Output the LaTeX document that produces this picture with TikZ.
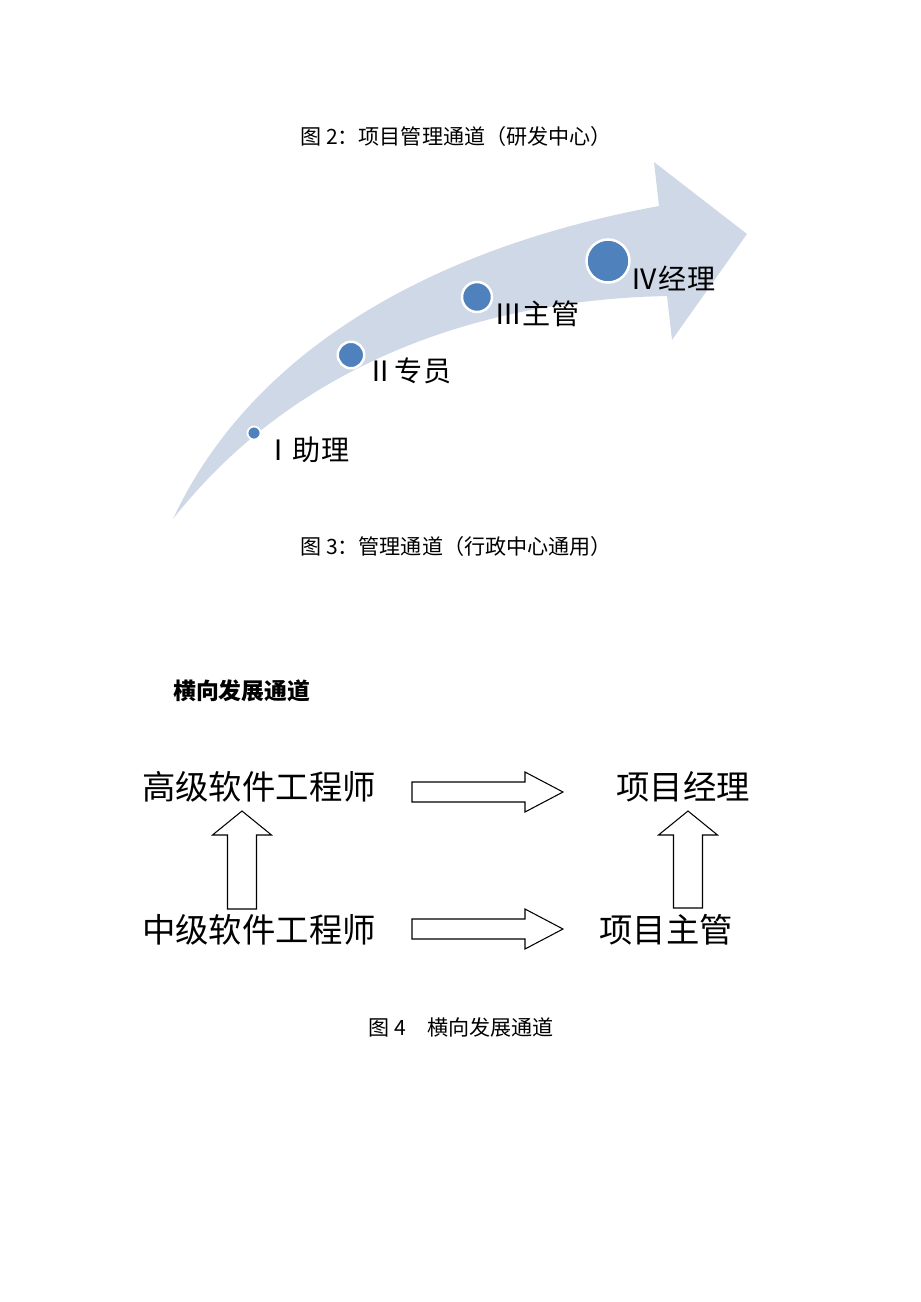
\documentclass[tikz,border=0pt]{standalone}
\usepackage{fontspec}
\setmainfont{Noto Sans CJK SC}
\usepackage{xcolor}
\definecolor{bandblue}{RGB}{207,216,231}
\definecolor{dotblue}{RGB}{79,129,189}
\usepackage{tikz}
\usetikzlibrary{calc}
\newcommand{\rblock}[2]{
\draw[blockarrow]($(#1)+(0,-10)$)--($(#2)+(-38,-10)$)--($(#2)+(-38,-20)$)--(#2)--($(#2)+(-38,20)$)--($(#2)+(-38,10)$)--($(#1)+(0,10)$)--cycle;
}
\newcommand{\ublock}[2]{
\draw[blockarrow]($(#1)+(-14.5,0)$)--($(#2)+(-14.5,24)$)--($(#2)+(-29.5,24)$)--(#2)--($(#2)+(29.5,24)$)--($(#2)+(14.5,24)$)--($(#1)+(14.5,0)$)--cycle;
}

\begin{document}
\begin{tikzpicture}[x=0.02cm,y=-0.02cm,
  blockarrow/.style={draw=black,fill=white,line width=0.6pt},
  dot/.style={circle,fill=dotblue,draw=white,line width=1.4pt,inner sep=0pt},
  lvl/.style={font=\fontsize{16}{16}\selectfont},
  figcap/.style={font=\fontsize{12}{12}\selectfont},
  job/.style={font=\fontsize{19}{19}\selectfont}]

\useasboundingbox (0,0) rectangle (920,1302);

\node[figcap] (cap2) at (456,136) {图 2：项目管理通道（研发中心）};

%curved band
\fill[bandblue] (173,519) .. controls (248,358) and (420,250) .. (659,206)
  -- (654,162) -- (747,234) -- (672,340) -- (667,296)
  .. controls (470,300) and (290,370) .. (173,519) -- cycle;

\node[dot,minimum size=0.26cm,line width=1pt] (lv1) at (254,433) {};
\node[dot,minimum size=0.53cm] (lv2) at (351,355) {};
\node[dot,minimum size=0.6cm] (lv3) at (477,297) {};
\node[dot,minimum size=0.86cm] (lv4) at (608,261) {};

\node[lvl] (t1) at (307,450) {Ⅰ助理};
\node[lvl] (t2) at (409,371) {Ⅱ专员};
\node[lvl] (t3) at (537,314) {Ⅲ主管};
\node[lvl] (t4) at (673,278) {Ⅳ经理};

\node[figcap] (cap3) at (456,546) {图 3：管理通道（行政中心通用）};

\node[font=\fontsize{13}{13}\selectfont\bfseries,anchor=west] (head) at (167,691) {横向发展通道};

\node[job] (senior) at (259,787) {高级软件工程师};
\node[job] (middle) at (259,930) {中级软件工程师};
\node[job] (pm) at (683,787) {项目经理};
\node[job] (sup) at (666,930) {项目主管};

\coordinate (a1) at (412,792);
\coordinate (a2) at (563,792);
\coordinate (b1) at (412,929);
\coordinate (b2) at (563,929);
\coordinate (c1) at (242,909);
\coordinate (c2) at (242,811);
\coordinate (d1) at (688,908);
\coordinate (d2) at (688,811);

\rblock{a1}{a2}
\rblock{b1}{b2}
\ublock{c1}{c2}
\ublock{d1}{d2}

\node[figcap] (cap4) at (461,1027) {图 4\hspace{1em}横向发展通道};

\end{tikzpicture}
\end{document}
